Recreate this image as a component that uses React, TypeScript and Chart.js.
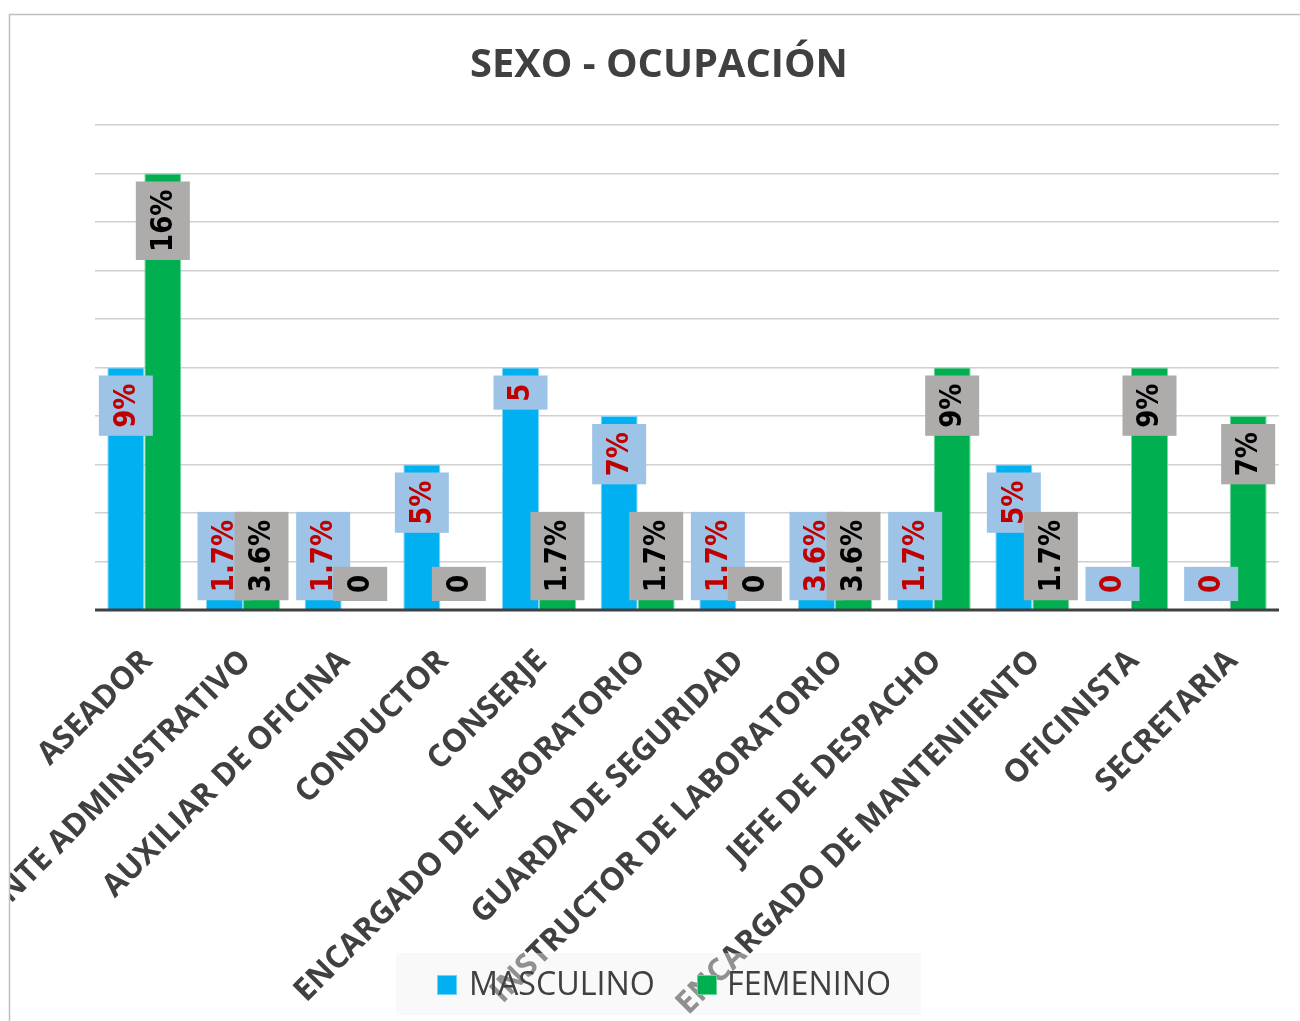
import { useEffect, useRef } from "react";
import { Chart, registerables } from "chart.js";

Chart.register(...registerables);

const chartTitle = "SEXO - OCUPACIÓN";
const categories = [
  "ASEADOR",
  "ASISTENTE ADMINISTRATIVO",
  "AUXILIAR DE OFICINA",
  "CONDUCTOR",
  "CONSERJE",
  "ENCARGADO DE LABORATORIO",
  "GUARDA DE SEGURIDAD",
  "INSTRUCTOR DE LABORATORIO",
  "JEFE DE DESPACHO",
  "ENCARGADO DE MANTENIIENTO",
  "OFICINISTA",
  "SECRETARIA",
];
const seriesNames = ["MASCULINO", "FEMENINO"];
const masculino = [5, 1, 1, 3, 5, 4, 1, 2, 1, 3, 0, 0];
const femenino = [9, 2, 0, 0, 1, 1, 0, 2, 5, 1, 5, 4];
const masculinoLabels = ["9%", "1.7%", "1.7%", "5%", "5", "7%", "1.7%", "3.6%", "1.7%", "5%", "0", "0"];
const femeninoLabels = ["16%", "3.6%", "0", "0", "1.7%", "1.7%", "0", "3.6%", "9%", "1.7%", "9%", "7%"];
const yMax = 10;

const BLUE = "#00B0F0";
const GREEN = "#00B050";
const TEXT = "#404040";
const SANS = "'Open Sans'";

function fitSize(ctx: CanvasRenderingContext2D, text: string, weight: string, family: string, target: number) {
  ctx.font = `${weight} 100px ${family}`;
  const w = ctx.measureText(text).width;
  return (100 * target) / w;
}

const overlay = {
  id: "overlay",
  afterDatasetsDraw(chart: any) {
    const ctx: CanvasRenderingContext2D = chart.ctx;
    const area = chart.chartArea;
    ctx.save();
    // axis baseline
    ctx.strokeStyle = TEXT;
    ctx.lineWidth = 3;
    ctx.beginPath();
    ctx.moveTo(area.left, area.bottom);
    ctx.lineTo(area.right, area.bottom);
    ctx.stroke();

    // data labels
    const squeeze = 0.87;
    ctx.font = "bold 30px 'DejaVu Sans'";
    [0, 1].forEach((d) => {
      const meta = chart.getDatasetMeta(d);
      const labels = d === 0 ? masculinoLabels : femeninoLabels;
      meta.data.forEach((el: any, i: number) => {
        const { x, y, base } = el.getProps(["x", "y", "base"], true);
        const tw = ctx.measureText(labels[i]).width * squeeze;
        const bh = tw + 16;
        const bw = 54;
        let top = y + 8;
        if (top + bh > base - 9) top = base - 9 - bh;
        ctx.fillStyle = d === 0 ? "#9DC3E6" : "#AEABAB";
        ctx.fillRect(x - bw / 2, top, bw, bh);
        ctx.save();
        ctx.translate(x, top + bh / 2);
        ctx.rotate(-Math.PI / 2);
        ctx.scale(squeeze, 1);
        ctx.fillStyle = d === 0 ? "#C00000" : "#000000";
        ctx.textAlign = "center";
        ctx.textBaseline = "middle";
        ctx.fillText(labels[i], 0, 1);
        ctx.restore();
      });
    });
    ctx.restore();
  },
  afterDraw(chart: any) {
    const ctx: CanvasRenderingContext2D = chart.ctx;
    const xScale = chart.scales.x;
    ctx.save();

    // category labels
    ctx.save();
    ctx.beginPath();
    ctx.rect(10, 15, 1290, 1006);
    ctx.clip();
    const catSize = fitSize(ctx, "ENCARGADO DE LABORATORIO", "bold", SANS, 482);
    ctx.font = `bold ${catSize}px ${SANS}`;
    ctx.fillStyle = TEXT;
    ctx.textAlign = "right";
    ctx.textBaseline = "middle";
    categories.forEach((c, i) => {
      const x = xScale.getPixelForValue(i);
      ctx.save();
      ctx.translate(x + 3, 656);
      ctx.rotate(-Math.PI / 4);
      ctx.fillText(c, 0, 0);
      ctx.restore();
    });
    ctx.restore();

    // legend
    ctx.fillStyle = "rgba(242,242,242,0.45)";
    ctx.fillRect(396, 953, 525, 62);
    const legSize = fitSize(ctx, seriesNames[0], "normal", SANS, 186);
    ctx.font = `normal ${legSize}px ${SANS}`;
    ctx.textAlign = "left";
    ctx.textBaseline = "middle";
    const items = [
      { name: seriesNames[0], color: BLUE, border: "#6FD3F7", sx: 437, tx: 469 },
      { name: seriesNames[1], color: GREEN, border: "#6CD09A", sx: 697, tx: 727 },
    ];
    items.forEach((it) => {
      ctx.fillStyle = it.color;
      ctx.fillRect(it.sx, 975, 20, 20);
      ctx.strokeStyle = it.border;
      ctx.lineWidth = 1;
      ctx.strokeRect(it.sx + 0.5, 975.5, 19, 19);
      ctx.fillStyle = TEXT;
      ctx.fillText(it.name, it.tx, 986);
    });

    // title
    const tSize = fitSize(ctx, chartTitle, "bold", SANS, 378);
    ctx.font = `bold ${tSize}px ${SANS}`;
    ctx.fillStyle = TEXT;
    ctx.textAlign = "center";
    ctx.textBaseline = "middle";
    ctx.fillText(chartTitle, 659, 66);

    // chart border
    ctx.strokeStyle = "#BFBFBF";
    ctx.lineWidth = 1.5;
    ctx.beginPath();
    ctx.moveTo(9.5, 1021);
    ctx.lineTo(9.5, 14.5);
    ctx.lineTo(1300, 14.5);
    ctx.stroke();
    ctx.restore();
  },
};

export default function App() {
  const ref = useRef<HTMLCanvasElement | null>(null);
  useEffect(() => {
    if (!ref.current) return;
    const chart = new Chart(ref.current, {
      type: "bar",
      data: {
        labels: categories,
        datasets: [
          {
            label: seriesNames[0],
            data: masculino,
            backgroundColor: BLUE,
            borderColor: "#7FD6F7",
            borderWidth: 1,
            categoryPercentage: 0.75,
            barPercentage: 1,
          },
          {
            label: seriesNames[1],
            data: femenino,
            backgroundColor: GREEN,
            borderColor: "#7FD4A3",
            borderWidth: 1,
            categoryPercentage: 0.75,
            barPercentage: 1,
          },
        ],
      },
      options: {
        responsive: false,
        animation: false,
        devicePixelRatio: 1,
        layout: { padding: { left: 95, right: 21, top: 125, bottom: 411 } },
        plugins: {
          legend: { display: false },
          title: { display: false },
          tooltip: { enabled: false },
        },
        scales: {
          x: {
            type: "category",
            ticks: { display: false },
            grid: { display: false, drawTicks: false },
            border: { display: false },
          },
          y: {
            min: 0,
            max: yMax,
            ticks: { display: false, stepSize: 1 },
            grid: {
              drawTicks: false,
              color: (c: any) => (c.tick && c.tick.value === 0 ? "rgba(0,0,0,0)" : "#D0D0D0"),
              lineWidth: 1.5,
            },
            border: { display: false },
          },
        },
      },
      plugins: [overlay],
    });
    return () => chart.destroy();
  }, []);
  return (
    <div style={{ position: "absolute", left: 0, top: 0, width: 1300, height: 1021, background: "#fff" }}>
      <canvas ref={ref} width={1300} height={1021} style={{ display: "block", width: 1300, height: 1021 }} />
    </div>
  );
}
